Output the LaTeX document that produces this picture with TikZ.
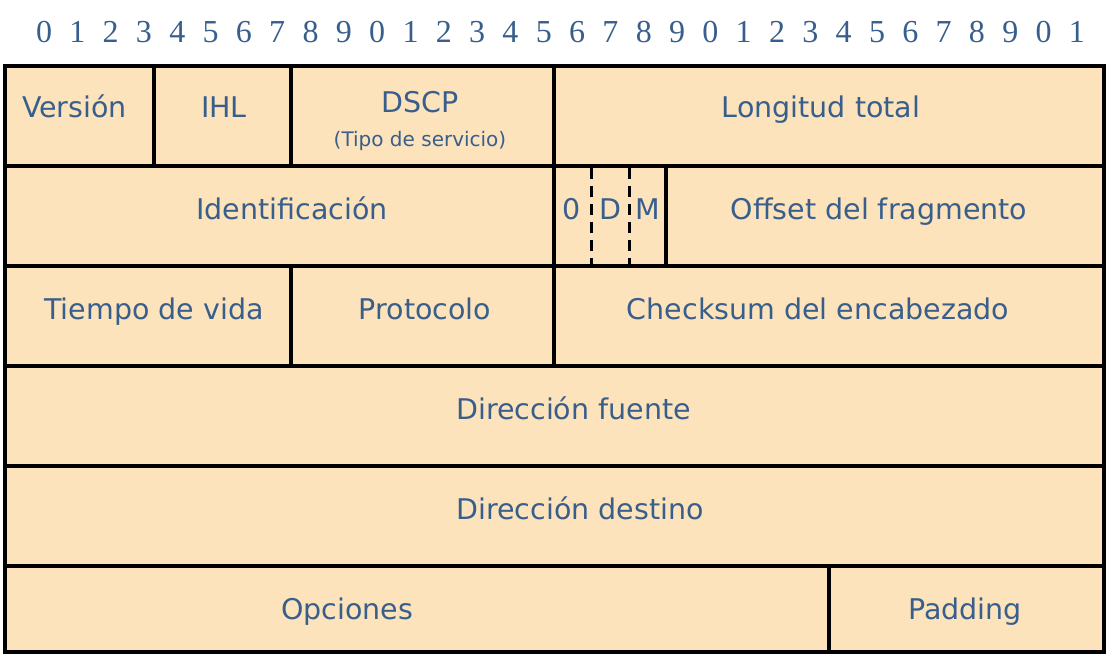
\documentclass[tikz,border=0pt]{standalone}
\usepackage{fontspec}
\setmainfont{DejaVu Sans}
\newfontfamily\numfont{Liberation Serif}
\usepackage{tikz}
\usetikzlibrary{positioning}

\definecolor{campo}{RGB}{252,227,188}
\definecolor{texto}{RGB}{56,94,140}

\begin{document}
\begin{tikzpicture}[x=1pt, y=-1pt,
    borde/.style={draw=black, line width=4.5pt},
    bandera/.style={draw=black, line width=3.2pt, dash pattern=on 11pt off 7pt},
    bit/.style={text=texto, font=\numfont\fontsize{32}{34}\selectfont, inner sep=0pt, anchor=base},
    etiqueta/.style={text=texto, font=\fontsize{28.5}{30}\selectfont, inner sep=0pt, anchor=base},
    nota/.style={text=texto, font=\fontsize{20}{22}\selectfont, inner sep=0pt, anchor=base}]
    \useasboundingbox (0,0) rectangle (1107,655);

    % Draw bit numbers
    \foreach \i in {0,...,31} {
      \pgfmathtruncatemacro\d{mod(\i,10)}
      \node[bit] (b\i) at ({44+33.32*\i},43) {\d};
    }

    % Header background
    \fill[campo] (5,66) rectangle (1104,652);

    % Draw the fields
    \foreach \xa/\ya/\xb/\yb in {5/66/154/166, 154/66/291/166, 291/66/554/166, 554/66/1104/166,
      5/166/554/266, 554/166/666/266, 666/166/1104/266,
      5/266/291/366, 291/266/554/366, 554/266/1104/366,
      5/366/1104/466, 5/466/1104/566, 5/566/829/652, 829/566/1104/652} {
      \draw[borde] (\xa,\ya) rectangle (\xb,\yb);
    }

    % Flags
    \draw[bandera] (591.5,168) -- (591.5,264);
    \draw[bandera] (629.5,168) -- (629.5,264);

    % Field names
    \node[etiqueta] (version) at (74.5,118) {Versión};
    \node[etiqueta] (ihl) at (224,118) {IHL};
    \node[etiqueta] (dscp) at (420,113) {DSCP};
    \node[nota] (tos) at (420,147) {(Tipo de servicio)};
    \node[etiqueta] (longitud) at (821,118) {Longitud total};

    \node[etiqueta] (ident) at (292,219) {Identificación};
    \foreach \n/\x/\t in {cero/571.5/0, df/610/D, mf/647.5/M} {
      \node[etiqueta] (\n) at (\x,219) {\t};
    }
    \node[etiqueta] (offset) at (879,219) {Offset del fragmento};

    \node[etiqueta] (ttl) at (154,319) {Tiempo de vida};
    \node[etiqueta] (proto) at (425,319) {Protocolo};
    \node[etiqueta] (checksum) at (818,319) {Checksum del encabezado};

    \node[etiqueta] (fuente) at (573.5,419) {Dirección fuente};
    \node[etiqueta] (destino) at (580,519) {Dirección destino};

    \node[etiqueta] (opciones) at (347,619) {Opciones};
    \node[etiqueta] (padding) at (965,619) {Padding};
\end{tikzpicture}
\end{document}
